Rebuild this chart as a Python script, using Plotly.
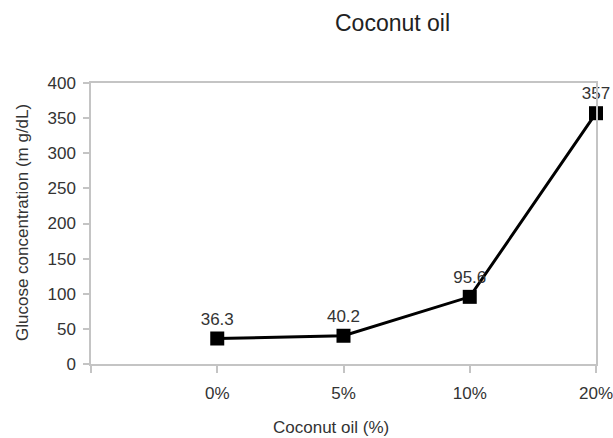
import plotly.graph_objects as go

categories = ["", "0%", "5%", "10%", "20%"]
glucose = [None, 36.3, 40.2, 95.6, 357]
labels = ["", "36.3", "40.2", "95.6", "357"]
y_ticks = [0, 50, 100, 150, 200, 250, 300, 350, 400]

xpos = list(range(len(categories)))

fig = go.Figure()
fig.add_trace(go.Scatter(
    x=xpos[1:], y=glucose[1:],
    mode="lines+markers+text",
    line=dict(color="black", width=3),
    marker=dict(symbol="square", size=14, color="black"),
    text=labels[1:], textposition="top center",
    textfont=dict(size=17, color="#333333", family="Liberation Sans"),
    cliponaxis=False, showlegend=False,
))

axis_color = "#c4c4c4"
text_color = "#333333"

def px_x(p):
    return (p - 91) / 505

def px_y(p):
    return (364 - p) / 281

fig.update_layout(
    width=613, height=438,
    margin=dict(l=91, r=17, t=83, b=74, autoexpand=False),
    paper_bgcolor="white", plot_bgcolor="white",
    font=dict(family="Liberation Sans", size=17, color=text_color),
    annotations=[
        dict(text="Coconut oil", x=px_x(392), y=px_y(23), xref="paper", yref="paper",
             xanchor="center", yanchor="middle", showarrow=False,
             font=dict(size=23, color="#222222")),
        dict(text="Coconut oil (%)", x=px_x(331), y=px_y(427), xref="paper", yref="paper",
             xanchor="center", yanchor="middle", showarrow=False,
             font=dict(size=17, color=text_color)),
        dict(text="Glucose concentration (m g/dL)", x=px_x(22), y=px_y(223),
             xref="paper", yref="paper", textangle=-90,
             xanchor="center", yanchor="middle", showarrow=False,
             font=dict(size=17, color=text_color)),
    ],
)

fig.update_xaxes(
    range=[0, len(categories) - 1], tickvals=xpos, ticktext=categories,
    showgrid=False, zeroline=False, automargin=False,
    showline=True, linecolor=axis_color, linewidth=1.5, mirror=True,
    ticks="outside", ticklen=7, tickcolor=axis_color, tickwidth=1.5,
    ticklabelstandoff=6, ticklabeloverflow="allow",
    tickfont=dict(size=17, color=text_color),
)
fig.update_yaxes(
    range=[0, 400], tickvals=y_ticks,
    showgrid=False, zeroline=False, automargin=False,
    showline=True, linecolor=axis_color, linewidth=1.5, mirror=True,
    ticks="outside", ticklen=6, tickcolor=axis_color, tickwidth=1.5,
    ticklabelstandoff=4,
    tickfont=dict(size=17, color=text_color),
)

fig.write_html(
    "out.html",
    config={"displayModeBar": False},
    post_script="document.body.style.margin='0px';document.body.style.overflow='hidden';",
)
